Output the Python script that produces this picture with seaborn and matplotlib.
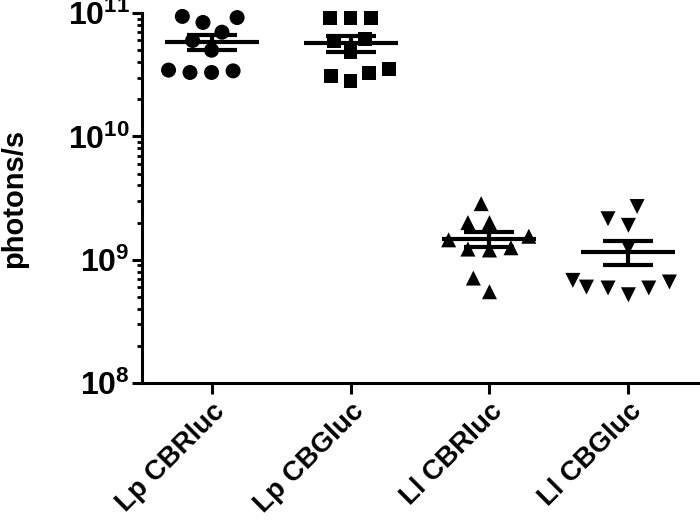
import numpy as np
import pandas as pd
import matplotlib
matplotlib.use("Agg")
import matplotlib.pyplot as plt
import seaborn as sns

# photons/s per animal
groups = ['Lp CBRluc', 'Lp CBGluc', 'Ll CBRluc', 'Ll CBGluc']
lp_cbrluc = [9.4e10, 8.4e10, 9.2e10, 7.0e10, 6.0e10, 5.0e10, 3.4e10, 3.3e10, 3.3e10, 3.45e10]
lp_cbgluc = [9.2e10, 9.1e10, 9.2e10, 6.2e10, 5.9e10, 4.8e10, 3.55e10, 3.25e10, 3.1e10, 2.8e10]
ll_cbrluc = [2.85e9, 2.0e9, 2.0e9, 1.45e9, 1.55e9, 1.22e9, 1.2e9, 1.25e9, 7.1e8, 5.5e8]
ll_cbgluc = [2.7e9, 2.15e9, 1.9e9, 1.25e9, 6.6e8, 5.9e8, 5.2e8, 5.9e8, 6.0e8, 6.8e8]
ytick_vals = [1e8, 1e9, 1e10, 1e11]
ytick_labels = [r'$\mathbf{10^{8}}$', r'$\mathbf{10^{9}}$', r'$\mathbf{10^{10}}$', r'$\mathbf{10^{11}}$']

markers = ['o', 's', '^', 'v']
sizes = [10.8, 10.0, 10.8, 10.8]

sns.set_style('ticks')
plt.rcParams['font.family'] = ['Liberation Sans', 'DejaVu Sans']
plt.rcParams['font.weight'] = 'bold'
plt.rcParams['mathtext.fontset'] = 'custom'
plt.rcParams['mathtext.bf'] = 'Liberation Sans:bold'
plt.rcParams['mathtext.rm'] = 'Liberation Sans:bold'
for key in ['text.color', 'axes.labelcolor', 'xtick.color', 'ytick.color', 'axes.edgecolor']:
    plt.rcParams[key] = 'black'

values = [lp_cbrluc, lp_cbgluc, ll_cbrluc, ll_cbgluc]
df = pd.DataFrame({
    'group': np.repeat(groups, [len(v) for v in values]),
    'photons': np.concatenate(values),
})

fig = plt.figure(figsize=(7.0, 5.24), dpi=100)
ax = fig.add_axes([0.203, 0.269, 0.794, 0.706])

for g, m, s in zip(groups, markers, sizes):
    sns.swarmplot(data=df[df['group'] == g], x='group', y='photons', order=groups,
                  marker=m, size=s, color='black', edgecolor='none', linewidth=4,
                  log_scale=True, ax=ax, zorder=3)
# let the top markers spill over the axes edge like the original
for coll in ax.collections:
    if len(coll.get_offsets()) > 0:
        coll.set_clip_on(False)

# mean +/- SEM, arithmetic (Prism style)
stats = df.groupby('group', sort=False)['photons'].agg(['mean', 'sem']).reindex(groups)
ax.errorbar(np.arange(len(groups)), stats['mean'], yerr=stats['sem'], fmt='_',
            markersize=68, markeredgewidth=3, elinewidth=3, capsize=18, capthick=3,
            color='black', zorder=4)

ax.set_yscale('log')
ax.set_ylim(1e8, 1e11)
ax.set_xlim(-0.5, 3.5)
ax.set_yticks(ytick_vals, labels=ytick_labels)
ax.tick_params(axis='y', which='major', labelsize=23, length=7, width=2.2, pad=2)
ax.tick_params(axis='y', which='minor', length=3.6, width=2)
ax.tick_params(axis='x', labelsize=20, length=8, width=2.2, pad=3)
ax.set_xticks(range(len(groups)))
ax.set_xticklabels(groups, rotation=45, ha='right', va='top', rotation_mode='anchor',
                   fontweight='bold')
ax.set_xlabel('')
ax.set_ylabel('photons/s', fontsize=21, fontweight='bold')
ax.yaxis.set_label_coords(-0.205, 0.5)

sns.despine(ax=ax)
for side in ['left', 'bottom']:
    ax.spines[side].set_linewidth(2.2)

fig.savefig('out.png', dpi=100)
